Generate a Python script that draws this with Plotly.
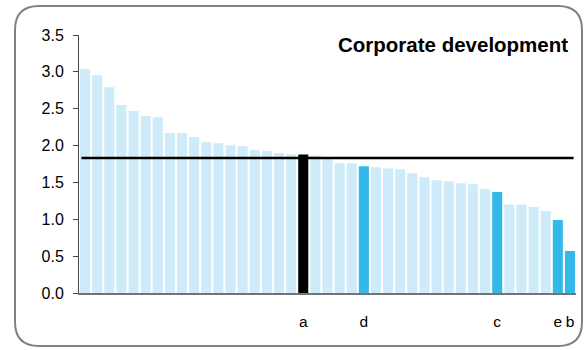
import plotly.graph_objects as go

values = [3.04, 2.955, 2.79, 2.55, 2.47, 2.40, 2.385, 2.17, 2.17, 2.115,
          2.045, 2.03, 2.005, 1.99, 1.94, 1.925, 1.90, 1.88, 1.88, 1.865,
          1.84, 1.76, 1.76, 1.72, 1.705, 1.69, 1.68, 1.625, 1.57, 1.53,
          1.515, 1.49, 1.475, 1.41, 1.37, 1.20, 1.20, 1.165, 1.11, 0.99, 0.57]
labels = [""] * 18 + ["a"] + [""] * 4 + ["d"] + [""] * 10 + ["c"] + [""] * 4 + ["e", "b"]
highlight = {"a": "#000000", "d": "#33b8e8", "c": "#33b8e8", "e": "#33b8e8", "b": "#33b8e8"}
base_color = "#cdebf8"
benchmark = 1.83
title_text = "Corporate development"
y_ticks = [0.0, 0.5, 1.0, 1.5, 2.0, 2.5, 3.0, 3.5]

x = list(range(len(values)))
colors = [highlight.get(l, base_color) for l in labels]
tick_idx = [i for i, l in enumerate(labels) if l]
tick_txt = [labels[i] for i in tick_idx]

W, H = 584, 350
ML, MR, MT, MB = 79, 8, 35, 57
pw, ph = W - ML - MR, H - MT - MB

def P(px, py):
    a = (px - ML) / pw
    b = (H - MB - py) / ph
    return a, b

def S(px, py):
    a, b = P(px, py)
    return f"{a:.5f},{b:.5f}"

fig = go.Figure()
fig.add_trace(go.Bar(x=x, y=values, marker=dict(color=colors, line=dict(width=0)),
                     hoverinfo="y"))

# benchmark line
fig.add_shape(type="line", xref="x", yref="y", x0=-0.3, x1=40.3, y0=benchmark, y1=benchmark,
              line=dict(color="black", width=2.5))

# rounded border
x0, x1, y0, y1, r = 15, 582, 6, 346, 24
path = (f"M {S(x0 + r, y0)} L {S(x1 - r, y0)} Q {S(x1, y0)} {S(x1, y0 + r)} "
        f"L {S(x1, y1 - r)} Q {S(x1, y1)} {S(x1 - r, y1)} "
        f"L {S(x0 + r, y1)} Q {S(x0, y1)} {S(x0, y1 - r)} "
        f"L {S(x0, y0 + r)} Q {S(x0, y0)} {S(x0 + r, y0)} Z")
fig.add_shape(type="path", xref="paper", yref="paper", path=path,
              line=dict(color="#808080", width=2), layer="below")

tx, ty = P(570, 45)
fig.add_annotation(text=f"<b>{title_text}</b>", xref="paper", yref="paper", x=tx, y=ty,
                   xanchor="right", yanchor="middle", showarrow=False,
                   font=dict(size=20.5, color="black", family="Liberation Sans, Arial"))

fig.update_layout(
    width=W, height=H, margin=dict(l=ML, r=MR, t=MT, b=MB),
    paper_bgcolor="white", plot_bgcolor="white", showlegend=False,
    bargap=0.17,
    font=dict(family="Liberation Sans, Arial", size=16, color="black"),
)
fig.update_xaxes(range=[-0.5, len(values) - 0.5], tickmode="array", tickvals=tick_idx,
                 ticktext=tick_txt, ticks="outside", ticklen=13, tickcolor="rgba(0,0,0,0)",
                 showline=True, linecolor="rgba(70,70,70,0.75)", linewidth=2,
                 showgrid=False, zeroline=False, tickfont=dict(size=15.5))
fig.update_yaxes(range=[0, 3.5], tickmode="array", tickvals=y_ticks,
                 ticktext=[f"{v:.1f}" for v in y_ticks], ticks="outside", ticklen=5,
                 tickcolor="#444", showline=True, linecolor="#444", linewidth=1,
                 showgrid=False, zeroline=False, ticklabelstandoff=6, tickfont=dict(size=16))

fig.write_html("out.html", config={"displayModeBar": False},
               post_script="document.body.style.margin='0';document.body.style.overflow='hidden';")
